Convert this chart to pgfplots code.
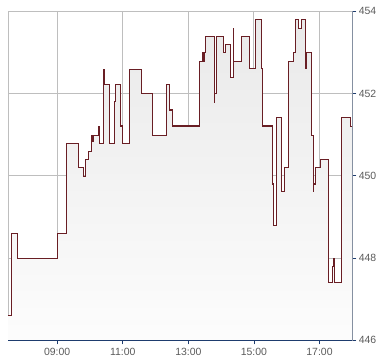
\documentclass[border=0pt]{standalone}
\usepackage{pgfplots}
\pgfplotsset{compat=1.18}
\usepackage{fontspec}
\setmainfont{Liberation Sans}
\definecolor{linered}{RGB}{105,30,36}
\definecolor{axblue}{RGB}{30,60,110}
\definecolor{gridgray}{RGB}{190,190,190}
\definecolor{txtgray}{RGB}{90,90,90}
\begin{document}
\begin{tikzpicture}
\path[use as bounding box] (-8bp,-23.7bp) rectangle (382bp,340.3bp);
\begin{axis}[
  at={(0,0)}, anchor=south west,
  scale only axis, width=344.3bp, height=329bp,
  xmin=7.5, xmax=18, ymin=446, ymax=454,
  xtick={9,11,13,15,17},
  xticklabels={09:00,11:00,13:00,15:00,17:00},
  ytick={446,448,450,452,454},
  xtick pos=bottom, ytick pos=right,
  yticklabel pos=right,
  tick align=outside,
  major tick length=4bp,
  tick style={axblue, line width=0.8pt},
  grid=major,
  major grid style={gridgray, line width=0.9pt},
  axis line style={gridgray, line width=0.9pt},
  ticklabel style={font=\fontsize{10.5}{12}\selectfont, text=txtgray},
  /pgf/number format/assume math mode=true,
  yticklabel style={xshift=-1bp},
  clip=true,
]
\addplot[const plot, draw=none, top color=gray!17, bottom color=white!98!gray] coordinates {
(7.5,446.61) (7.6,448.6) (7.8,448.0) (9.0,448.6) (9.274,450.6) (9.292,450.79)
(9.658,450.21) (9.81,449.98) (9.87,450.40) (9.96,450.6) (10.06,450.99) (10.08,450.83) (10.10,450.99)
(10.25,451.2) (10.30,450.79) (10.419,452.59) (10.44,452.21) (10.584,450.79)
(10.745,451.8) (10.767,452.21) (10.94,451.21) (10.99,450.79) (11.215,452.59)
(11.569,452.0) (11.903,450.99) (12.33,452.21) (12.421,451.6) (12.513,451.21)
(13.335,452.78) (13.426,453.0) (13.47,452.78) (13.49,453.0) (13.518,453.39)
(13.792,451.78) (13.80,452.0) (13.853,453.39) (14.066,453.0) (14.127,453.2)
(14.279,452.4) (14.371,453.59) (14.39,452.78) (14.62,453.39) (14.87,452.6)
(15.041,453.81) (15.23,452.6) (15.27,451.21) (15.566,449.8) (15.596,448.8)
(15.7,451.41) (15.84,449.61) (15.923,450.21) (16.054,452.78) (16.2,453.0)
(16.26,453.81) (16.351,453.59) (16.452,453.81) (16.57,452.6) (16.60,453.0)
(16.762,450.99) (16.817,449.61) (16.83,449.8) (16.878,450.21) (17.043,450.4)
(17.274,447.41) (17.387,447.8) (17.417,448.0) (17.469,447.41) (17.670,451.41)
(17.944,451.2) (18.0,451.2)
} \closedcycle;
\addplot[const plot, linered, line width=1.1pt] coordinates {
(7.5,446.61) (7.6,448.6) (7.8,448.0) (9.0,448.6) (9.274,450.6) (9.292,450.79)
(9.658,450.21) (9.81,449.98) (9.87,450.40) (9.96,450.6) (10.06,450.99) (10.08,450.83) (10.10,450.99)
(10.25,451.2) (10.30,450.79) (10.419,452.59) (10.44,452.21) (10.584,450.79)
(10.745,451.8) (10.767,452.21) (10.94,451.21) (10.99,450.79) (11.215,452.59)
(11.569,452.0) (11.903,450.99) (12.33,452.21) (12.421,451.6) (12.513,451.21)
(13.335,452.78) (13.426,453.0) (13.47,452.78) (13.49,453.0) (13.518,453.39)
(13.792,451.78) (13.80,452.0) (13.853,453.39) (14.066,453.0) (14.127,453.2)
(14.279,452.4) (14.371,453.59) (14.39,452.78) (14.62,453.39) (14.87,452.6)
(15.041,453.81) (15.23,452.6) (15.27,451.21) (15.566,449.8) (15.596,448.8)
(15.7,451.41) (15.84,449.61) (15.923,450.21) (16.054,452.78) (16.2,453.0)
(16.26,453.81) (16.351,453.59) (16.452,453.81) (16.57,452.6) (16.60,453.0)
(16.762,450.99) (16.817,449.61) (16.83,449.8) (16.878,450.21) (17.043,450.4)
(17.274,447.41) (17.387,447.8) (17.417,448.0) (17.469,447.41) (17.670,451.41)
(17.944,451.2) (18.0,451.2)
};
\draw[axblue, line width=1pt] (rel axis cs:0,0) -- (rel axis cs:1,0) -- (rel axis cs:1,1);
\end{axis}
\end{tikzpicture}
\end{document}
